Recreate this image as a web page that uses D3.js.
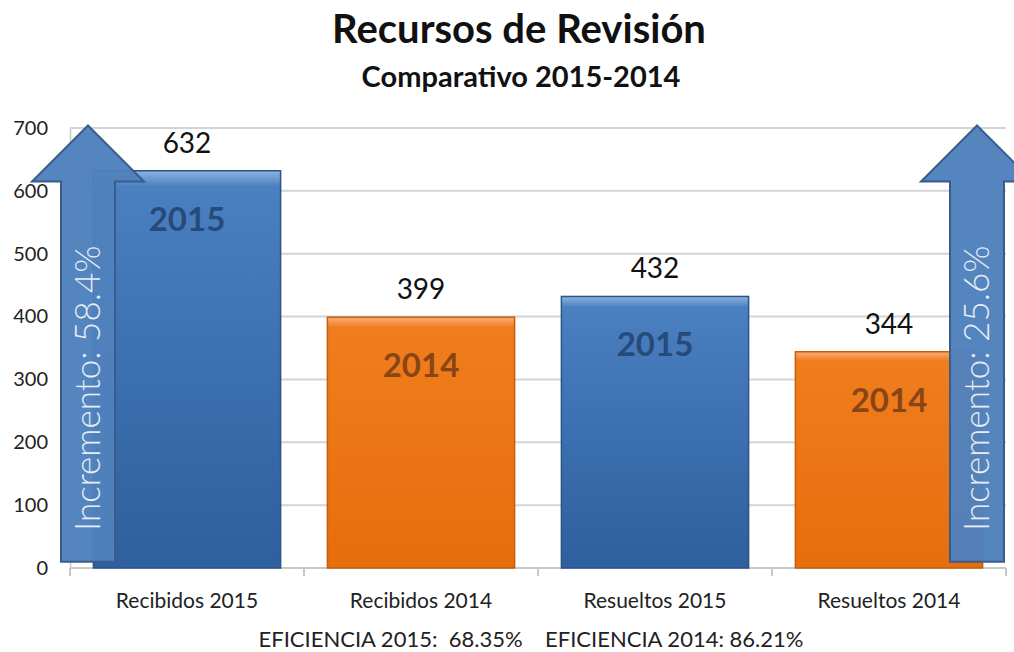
<!DOCTYPE html>
<html>
<head>
<meta charset="utf-8">
<script src="https://cdn.jsdelivr.net/npm/d3@7"></script>
<style>
  body { margin: 0; background: #fff; }
  svg text { font-family: Lato, "Open Sans", sans-serif; }
</style>
</head>
<body>
<div id="Diagram"></div>
<script>
// chart data
var categories = ["Recibidos 2015", "Recibidos 2014", "Resueltos 2015", "Resueltos 2014"];
var values = [632, 399, 432, 344];
var years = ["2015", "2014", "2015", "2014"];
var yTicks = [0, 100, 200, 300, 400, 500, 600, 700];
var increments = ["Incremento: 58.4%", "Incremento: 25.6%"];
var footer = "EFICIENCIA 2015:  68.35%    EFICIENCIA 2014: 86.21%";

var width = 1014, height = 652;
var margin = {"left": 70, "right": 8, "top": 128, "bottom": 84};

var svg = d3.select("#Diagram")
  .append("svg")
    .attr("width", width)
    .attr("height", height);

var defs = svg.append("defs");
function grad(id, c1, c2, c3) {
  var g = defs.append("linearGradient").attr("id", id)
    .attr("x1", 0).attr("y1", 0).attr("x2", 0).attr("y2", 1);
  g.append("stop").attr("offset", "0%").attr("stop-color", c1);
  g.append("stop").attr("offset", "4%").attr("stop-color", c2);
  g.append("stop").attr("offset", "100%").attr("stop-color", c3);
}
grad("g2015", "#8fb3df", "#4a7fc0", "#2e5f9e");
grad("g2014", "#f7b07a", "#f07d1e", "#e66e0c");

var fill = {"2015": "url(#g2015)", "2014": "url(#g2014)"};
var stroke = {"2015": "#2b5488", "2014": "#c65c08"};
var inner = {"2015": "#264a7a", "2014": "#8a4514"};

var x = d3.scaleBand()
  .domain(categories)
  .range([margin.left, width - margin.right])
  .paddingInner(0.2)
  .paddingOuter(0.1);

var y = d3.scaleLinear()
  .domain([0, 700])
  .range([height - margin.bottom, margin.top]);

// title
svg.append("text").attr("x", 519).attr("y", 43)
  .attr("text-anchor", "middle").attr("font-size", 40).attr("font-weight", "bold")
  .attr("fill", "#111").text("Recursos de Revisión");
svg.append("text").attr("x", 521).attr("y", 87)
  .attr("text-anchor", "middle").attr("font-size", 29).attr("font-weight", "bold")
  .attr("fill", "#111").text("Comparativo 2015-2014");

// gridlines
svg.append("g").selectAll("line")
  .data(yTicks.slice(1))
  .enter().append("line")
    .attr("x1", margin.left).attr("x2", width - margin.right)
    .attr("y1", function(d) { return y(d); })
    .attr("y2", function(d) { return y(d); })
    .attr("stroke", "#d4d4d4").attr("stroke-width", 2);

// y axis
var yAxis = svg.append("g")
  .attr("transform", "translate(" + margin.left + ",0)")
  .call(d3.axisLeft(y).tickValues(yTicks).tickSize(0).tickPadding(22));
yAxis.select(".domain").attr("stroke", "#c8c8c8").attr("stroke-width", 1.5);
yAxis.selectAll("text").attr("font-size", 20).attr("fill", "#222")
  .style("font-family", "Lato, sans-serif");

// x axis with ticks between categories
var xAxisY = y(0);
svg.append("line").attr("x1", margin.left).attr("x2", width - margin.right)
  .attr("y1", xAxisY).attr("y2", xAxisY).attr("stroke", "#c8c8c8").attr("stroke-width", 2);
var step = x.step();
var bounds = d3.range(categories.length + 1).map(function(i) { return margin.left + i * step; });
svg.append("g").selectAll("line").data(bounds).enter().append("line")
  .attr("x1", function(d) { return d; }).attr("x2", function(d) { return d; })
  .attr("y1", xAxisY).attr("y2", xAxisY + 8)
  .attr("stroke", "#c8c8c8").attr("stroke-width", 2);
svg.append("g").selectAll("text").data(categories).enter().append("text")
  .attr("x", function(d) { return x(d) + x.bandwidth() / 2; })
  .attr("y", 608)
  .attr("text-anchor", "middle").attr("font-size", 21).attr("fill", "#222")
  .text(function(d) { return d; });

// bars
var bars = svg.append("g").selectAll("g").data(values).enter().append("g");
bars.append("rect")
  .attr("x", function(d, i) { return x(categories[i]); })
  .attr("y", function(d) { return y(d); })
  .attr("width", x.bandwidth())
  .attr("height", function(d) { return y(0) - y(d); })
  .attr("fill", function(d, i) { return fill[years[i]]; })
  .attr("stroke", function(d, i) { return stroke[years[i]]; })
  .attr("stroke-width", 1.5);
bars.append("text")
  .attr("x", function(d, i) { return x(categories[i]) + x.bandwidth() / 2; })
  .attr("y", function(d) { return y(d) - 18; })
  .attr("text-anchor", "middle").attr("font-size", 28).attr("fill", "#111")
  .text(function(d) { return d; });
bars.append("text")
  .attr("x", function(d, i) { return x(categories[i]) + x.bandwidth() / 2; })
  .attr("y", function(d) { return y(d) + 60; })
  .attr("text-anchor", "middle").attr("font-size", 33).attr("font-weight", "bold")
  .attr("fill", function(d, i) { return inner[years[i]]; })
  .text(function(d, i) { return years[i]; });

// increment arrows
function arrow(cx, label) {
  var tip = y(704), base = y(615), bottom = y(10);
  var hw = 56, sw = 27;
  var pts = [[cx, tip], [cx + hw, base], [cx + sw, base], [cx + sw, bottom],
             [cx - sw, bottom], [cx - sw, base], [cx - hw, base]];
  var g = svg.append("g");
  g.append("path").attr("d", d3.line()(pts) + "Z")
    .attr("fill", "#4f81bd").attr("stroke", "#385d8a").attr("stroke-width", 2)
    .attr("fill-opacity", 0.97);
  var cy = y(286);
  g.append("text")
    .attr("transform", "translate(" + (cx + 12) + "," + cy + ") rotate(-90)")
    .attr("text-anchor", "middle").attr("font-size", 35).attr("font-weight", 300)
    .attr("fill", "#e6edf6").text(label);
}
arrow(margin.left + 18, increments[0]);
arrow(width - margin.right - 29, increments[1]);

// footer
svg.append("text").attr("x", 531).attr("y", 647)
  .attr("text-anchor", "middle").attr("font-size", 22).attr("fill", "#222")
  .attr("xml:space", "preserve").style("white-space", "pre")
  .text(footer);
</script>
</body>
</html>
